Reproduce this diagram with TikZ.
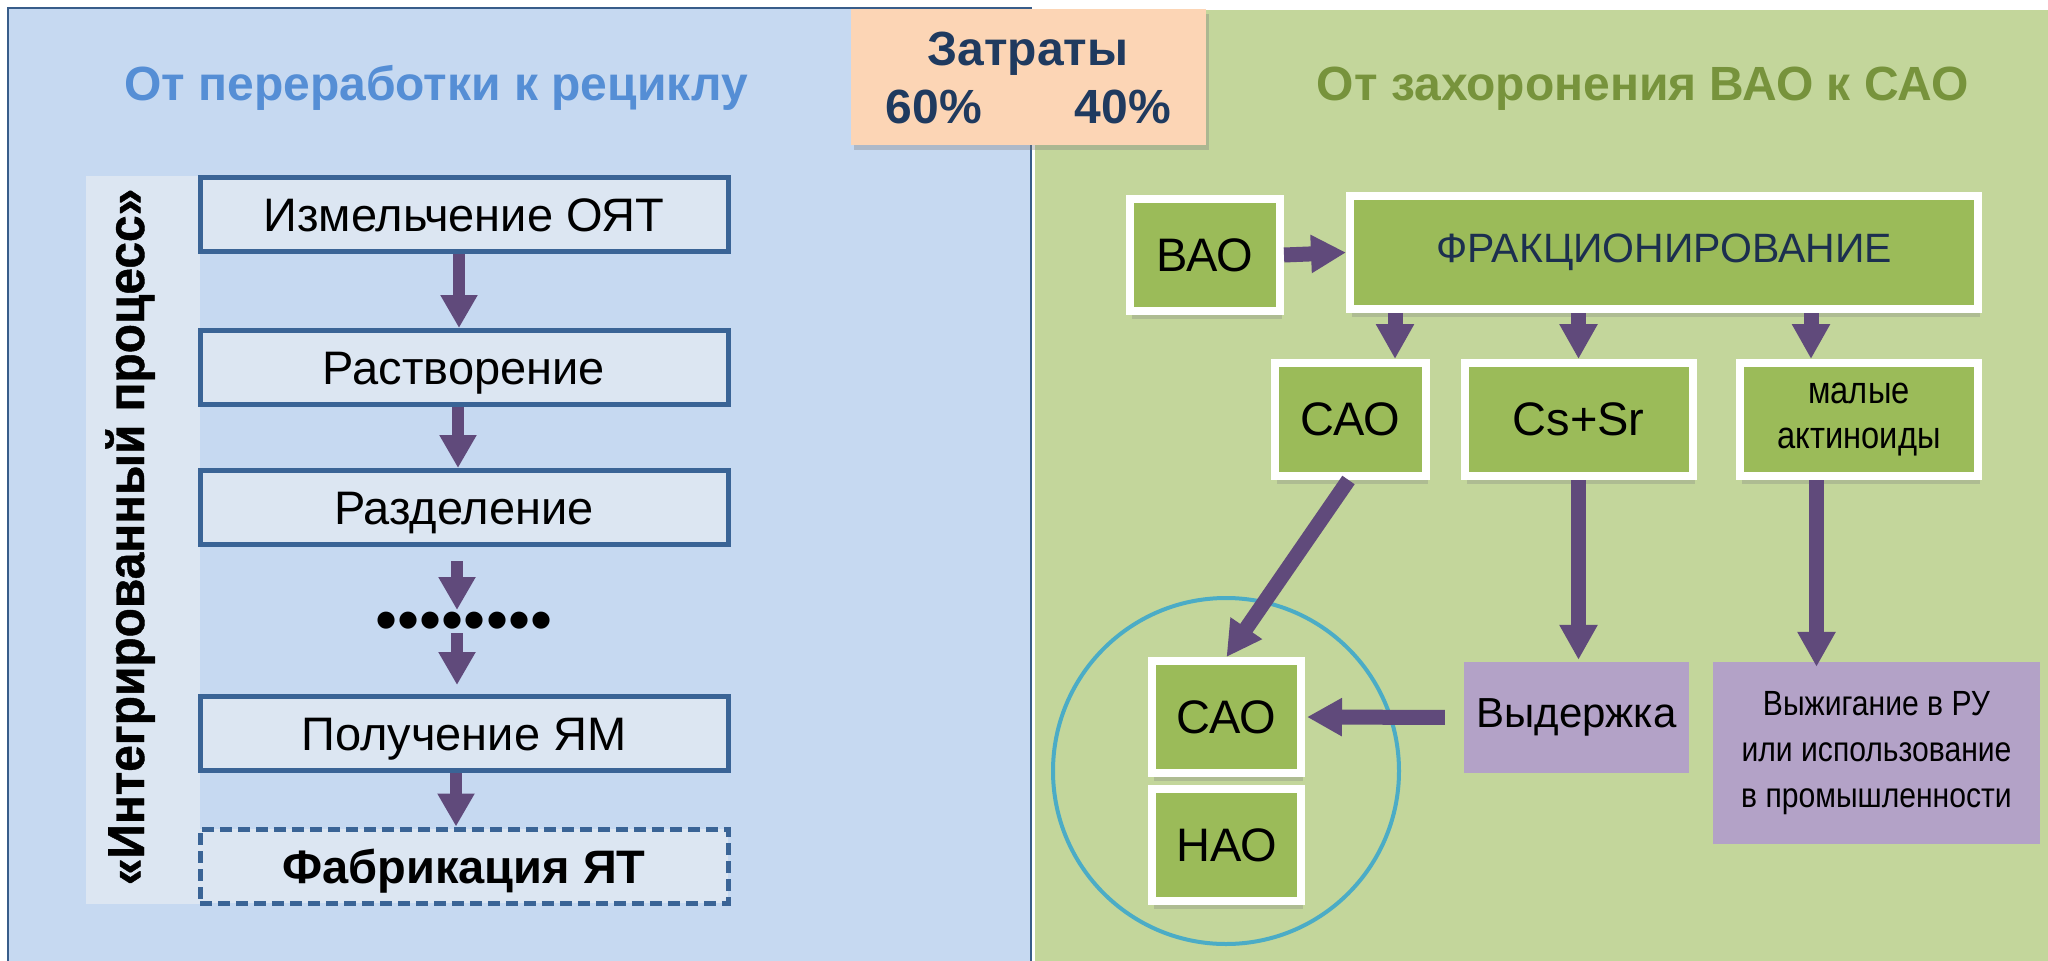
\documentclass[tikz,border=0pt]{standalone}
\usepackage{fontspec}
\setmainfont{Liberation Sans}
\newfontfamily\narrowfont[FakeStretch=0.86]{Liberation Sans}
\newfontfamily\sidefont[FakeStretch=0.92,FakeBold=0.8]{Liberation Sans}
\usetikzlibrary{arrows.meta,shadows}

\newcommand\fsz[2]{\fontsize{#1}{#2}\selectfont}

\definecolor{panelblue}{HTML}{C6D9F1}
\definecolor{paneledge}{HTML}{385D8A}
\definecolor{stepfill}{HTML}{DCE6F2}
\definecolor{stepedge}{HTML}{3A6496}
\definecolor{flowarrow}{HTML}{604A7B}
\definecolor{panelgreen}{HTML}{C3D69B}
\definecolor{wastegreen}{HTML}{9BBB59}
\definecolor{lilac}{HTML}{B3A2C7}
\definecolor{ringblue}{HTML}{4BACC6}
\definecolor{costfill}{HTML}{FCD5B5}
\definecolor{costtext}{HTML}{1F3A5F}
\definecolor{navytext}{HTML}{1C2F4F}
\definecolor{titleblue}{HTML}{558ED5}
\definecolor{titlegreen}{HTML}{77933C}

\tikzset{
  heading/.style={anchor=base, font=\bfseries\fsz{48}{56}},
  stepbox/.style={draw=stepedge, line width=5pt, fill=stepfill,
    minimum width=528pt, minimum height=74pt, inner sep=0pt,
    text height=34pt, text depth=0pt, font=\fsz{47}{56}},
  wastebox/.style={draw=white, line width=8pt, fill=wastegreen, inner sep=0pt,
    minimum height=112pt, font=\fsz{47}{56},
    drop shadow={shadow xshift=2pt, shadow yshift=-8pt, opacity=0.3}},
  lilacbox/.style={fill=lilac, inner sep=0pt},
  flow/.style={draw=flowarrow, line width=12pt, -{Triangle[width=35pt,length=33pt]}},
  flowwide/.style={draw=flowarrow, line width=15pt, -{Triangle[width=36pt,length=35pt]}},
}

\begin{document}
\begin{tikzpicture}[x=1pt,y=-1pt]
\useasboundingbox (0,0) rectangle (2048,961);

% two background panels
\fill[panelblue] (8,8) rectangle (1031,961);
\draw[paneledge, line width=2pt] (8,961) -- (8,8) -- (1031,8) -- (1031,961);
\fill[panelgreen] (1035,10) rectangle (2048,961);

% panel titles
\node[heading, titleblue] (lefttitle) at (436,100) {От переработки к рециклу};
\node[heading, titlegreen] (righttitle) at (1643,100) {От захоронения ВАО к САО};

% cost share box
\node[fill=costfill, minimum width=355pt, minimum height=136pt, inner sep=0pt,
      drop shadow={shadow xshift=3pt, shadow yshift=-5pt, opacity=0.35}] (cost) at (1028.5,77) {};
\node[heading, costtext] (costhead) at (1028,65) {Затраты};
\node[heading, costtext] (costleft) at (934,123) {60\%};
\node[heading, costtext] (costright) at (1123,123) {40\%};

% side bar with the vertical caption
\fill[stepfill] (86,176) rectangle (200,904);
\node[rotate=90, anchor=base, font=\sidefont\bfseries\fsz{52}{60}] (sidelabel) at (144,537)
  {«Интегрированный процесс»};

% process steps
\node[stepbox] (s1) at (464,214.5) {Измельчение ОЯТ};
\node[stepbox] (s2) at (464,367.5) {Растворение};
\node[stepbox] (s3) at (464,507.5) {Разделение};
\node[stepbox] (s4) at (464,733.5) {Получение ЯМ};
\node[stepbox, dash pattern=on 12pt off 6pt, font=\bfseries\fsz{47}{56}] (s5) at (464,866) {Фабрикация ЯТ};

\coordinate (dotrow) at (464,618);
\draw[flow] ([xshift=-5pt]s1.south) -- ([xshift=-5pt]s2.north);
\draw[flow] ([xshift=-6pt]s2.south) -- ([xshift=-6pt]s3.north);
\draw[flow] ([xshift=-7pt,yshift=-14pt]s3.south) -- ([xshift=-7pt,yshift=8pt]dotrow);
\draw[flow, shorten >=9pt] ([xshift=-7pt,yshift=-15pt]dotrow) -- ([xshift=-7pt]s4.north);
\draw[flow] ([xshift=-8pt]s4.south) -- ([xshift=-8pt]s5.north);
\node[anchor=base, font=\fsz{63}{70}] (dots) at (464,641) {••••••••};

% waste stream ring
\node[draw=ringblue, line width=4pt, circle, minimum size=346pt, inner sep=0pt] (ring) at (1226,771) {};

% waste categories
\node[wastebox, minimum width=150pt] (vao) at (1205,255) {ВАО};
\node[wastebox, minimum width=628pt, minimum height=113pt, text=navytext, font=\fsz{41}{48}] (frak) at (1664,252.5) {ФРАКЦИОНИРОВАНИЕ};
\node[wastebox, minimum width=151pt, minimum height=113pt] (cao1) at (1350.5,419.5) {САО};
\node[wastebox, minimum width=228pt, minimum height=113pt] (cssr) at (1578.5,419.5) {Cs+Sr};
\node[wastebox, minimum width=238pt, minimum height=113pt, align=center, font=\narrowfont\fsz{38}{45}] (mal) at (1859,419.5) {малые\\актиноиды};
\node[wastebox, minimum width=149pt] (cao2) at (1226.5,717) {САО};
\node[wastebox, minimum width=149pt] (nao) at (1226.5,845) {НАО};

\node[lilacbox, minimum width=225pt, minimum height=111pt, font=\fsz{42}{50}] (vyd) at (1576.5,717.5) {Выдержка};
\node[lilacbox, minimum width=327pt, minimum height=182pt, align=center, font=\narrowfont\fsz{35}{46}] (vyzh) at (1876.5,753) {Выжигание в РУ\\или использование\\в промышленности};

% waste flows
\draw[flowwide] (vao.east) -- (frak.west);
\draw[flowwide] ([xshift=44.5pt]cao1.north |- frak.south) -- ([xshift=44.5pt]cao1.north);
\draw[flowwide] (cssr.north |- frak.south) -- (cssr.north);
\draw[flowwide] ([xshift=-48pt]mal.north |- frak.south) -- ([xshift=-48pt]mal.north);
\draw[flowwide] ([xshift=-2pt]cao1.south) -- (cao2.north);
\draw[flowwide] (cssr.south) -- ([yshift=2pt]cssr.south |- vyd.north);
\draw[flowwide] ([xshift=-42.5pt]mal.south) -- ([xshift=-42.5pt,yshift=-5pt]mal.south |- vyzh.north);
\draw[flowwide, shorten <=19pt] (vyd.west) -- ([xshift=2pt]cao2.east);
\end{tikzpicture}
\end{document}
